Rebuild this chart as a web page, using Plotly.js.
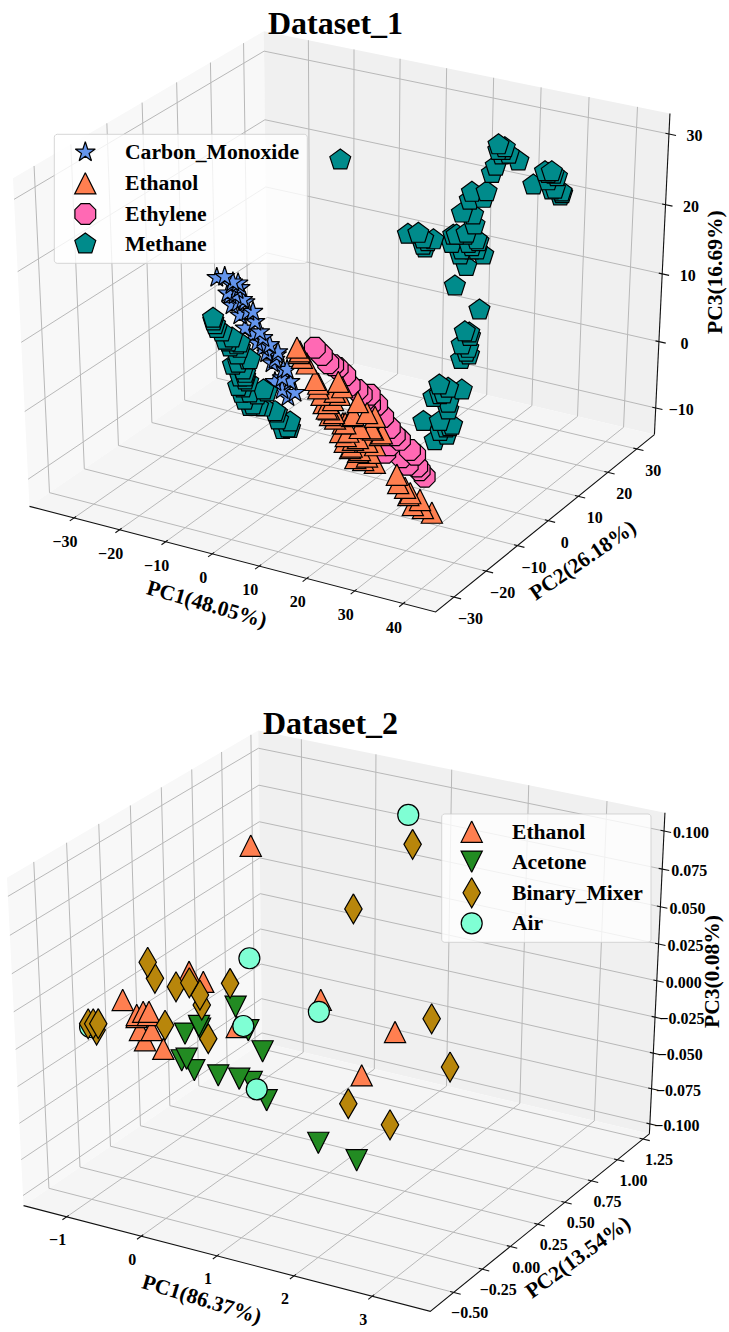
<!DOCTYPE html>
<html>
<head>
<meta charset="utf-8">
<script src="https://cdn.plot.ly/plotly-3.0.1.min.js"></script>
<style>html,body{margin:0;padding:0;background:#fff}</style>
</head>
<body>
<div id="chart" style="width:729px;height:1332px"></div>
<script>
// ---------- Dataset_1 values (PC1, PC2, PC3) ----------
const co_pc1=[-19.3,-18.1,-15.6,-16.5,-16.2,-13.9,-15.3,-12.4,-13.5,-11.9,-10.3,-9.1,-7.9,-7.0,-5.3,-5.6,-3.4,-3.1,-4.0,-2.4,-1.1,
 -16.5,-15.0,-16.7,-15.4,-15.4,-13.4,-14.5,-11.6,-10.7,-9.3,-8.5,-7.0,-5.3,-5.3,-2.8,-1.6,-0.2];
const co_pc2=[-6.9,-6.2,-5.7,-6.3,-7.3,-6.7,-8.0,-7.3,-8.2,-8.9,-8.8,-9.2,-9.2,-9.3,-8.7,-9.7,-9.4,-10.2,-11.1,-11.2,-11.3,
 -6.0,-5.9,-7.3,-6.3,-6.9,-6.7,-7.3,-6.9,-7.6,-8.1,-8.3,-8.4,-8.3,-9.2,-9.1,-9.9,-10.4];
const co_pc3=[13.1,13.2,12.5,12.3,11.2,10.7,10.1,9.4,9.0,7.6,6.9,6.0,5.5,4.9,4.7,3.8,3.1,2.2,1.8,0.9,0.15,
 12.6,12.0,11.4,11.75,11.2,10.45,10.35,9.4,8.3,7.2,6.55,5.8,5.0,4.2,3.1,1.8,0.6];

const eth_pc1=[-2.5,-1.9,-1.1,2.3,3.0,5.0,6.2,7.2,6.1,7.0,9.2,9.3,10.4,10.3,11.8,11.8,10.4,13.3,12.2,14.6,12.5,14.2,15.3,14.4,14.0,16.6,16.0,20.8,21.5,22.9,24.0,26.0,26.9,28.6,
 0.0,-1.8,3.3,4.2,6.1,7.1,6.3,5.7,5.8,6.7,7.7,10.4,9.6,10.6,14.1,12.5,10.6,12.0,13.5,15.0,13.2,15.8,15.6,23.8,25.1];
const eth_pc2=[-6.5,-6.8,-7.0,-7.8,-7.9,-9.1,-9.2,-9.1,-6.2,-6.3,-9.3,-10.2,-10.1,-8.0,-10.8,-9.9,-6.4,-10.5,-8.4,-10.8,-6.6,-9.0,-9.7,-7.5,-6.3,-10.1,-7.1,-9.4,-10.0,-9.9,-9.9,-9.8,-10.2,-9.9,
 -7.1,-6.6,-8.3,-8.6,-7.3,-7.2,-8.1,-8.7,-9.3,-9.6,-9.5,-7.8,-9.1,-9.6,-7.5,-9.4,-10.7,-10.6,-10.2,-10.2,-11.2,-7.4,-8.6,-10.2,-10.7];
const eth_pc3=[5.5,4.9,4.4,2.0,1.6,-0.5,-1.2,-1.6,1.8,1.2,-2.7,-3.65,-4.1,-1.9,-5.4,-4.5,-0.4,-5.8,-3.2,-6.7,-1.6,-4.7,-5.9,-3.4,-2.0,-7.0,-3.8,-8.3,-9.2,-9.7,-10.3,-11.0,-11.9,-12.4,
 3.8,5.1,1.1,0.4,0.7,0.4,-0.2,-0.5,-1.1,-1.8,-2.2,-1.8,-2.7,-3.6,-3.25,-4.3,-4.7,-5.2,-5.6,-6.3,-6.5,-4.0,-5.1,-10.5,-11.6];

const ely_pc1=[0.4,1.9,3.4,4.3,5.2,6.8,8.1,9.6,11.4,11.9,13.6,15.3,17.7,18.2,18.0,20.6,21.5,22.6,23.6,25.4,12.5,17.0,22.0,24.2,10.6,19.3];
const ely_pc2=[-5.2,-5.2,-5.4,-5.2,-5.1,-5.1,-5.6,-5.4,-5.7,-4.9,-5.1,-5.7,-8.5,-6.3,-7.5,-7.6,-6.4,-6.4,-7.2,-7.5,-5.7,-6.1,-7.8,-7.3,-5.5,-6.3];
const ely_pc3=[5.5,4.7,3.8,3.6,3.3,2.5,1.4,0.9,-0.2,0.4,-0.7,-2.0,-5.9,-4.0,-5.1,-6.4,-5.6,-6.1,-7.4,-8.5,-0.7,-3.2,-7.2,-7.8,0.4,-4.5];

const met_pc1=[18.0,19.1,19.1,20.2,22.1,18.8,18.6,16.5,18.8,18.7,16.1,18.0,18.8,8.7,10.3,11.4,13.1,12.2,16.0,17.9,16.2,20.4,19.8,18.2,21.9,19.9,19.2,24.5,27.6,28.5,28.0,25.9,29.6,31.0,30.8,23.4,24.5,23.7,24.9,24.4,22.4,26.3,22.2,23.6,24.9,25.3,22.0,24.6,26.5,25.2,26.5,24.9,-6.4,
 -17.4,-15.4,-14.4,-13.4,-11.9,-13.2,-11.6,-9.6,-11.7,-9.8,-9.9,-8.3,-8.8,-7.4,-4.7,-6.1,-6.2,-4.5,-1.9,0.7,0.7,0.0,
 -17.6,-16.9,-16.4,-12.3,-11.6,-13.8,-9.3,-11.0,-9.3,-9.1,-8.9,-9.6,-8.7,-7.8,-5.4,-5.3,-6.6,-2.3,-1.3,1.1,
 18.3,19.2,16.5,18.0,20.0,18.2,19.6,20.6,18.9,12.3,11.7,27.0,28.1,29.2,30.8,29.1,16.6,23.1,24.0,26.8,26.0,24.2,24.8,25.4];
const met_pc2=[25.8,25.7,25.2,25.8,26.0,23.8,22.9,19.8,21.0,20.2,17.3,18.0,17.3,11.4,12.3,12.2,12.9,11.6,14.8,15.7,14.0,16.2,15.0,14.2,15.5,13.2,10.7,10.6,27.2,27.6,26.6,25.1,26.4,26.6,26.3,7.7,7.7,6.3,6.6,5.1,1.3,2.6,-0.2,0.9,0.5,-0.1,-3.0,-1.7,-1.4,-2.5,-2.3,-3.7,12.4,
 -10.7,-11.0,-11.4,-10.7,-10.5,-11.6,-11.7,-11.3,-12.9,-12.5,-13.3,-13.1,-14.0,-13.9,-12.5,-13.5,-14.7,-14.1,-13.5,-13.2,-13.9,-14.4,
 -10.5,-10.9,-11.1,-10.9,-10.9,-11.3,-11.1,-12.3,-12.6,-12.9,-13.2,-14.3,-14.6,-14.9,-12.6,-14.4,-15.0,-13.5,-14.0,-13.8,
 25.3,26.0,15.1,16.0,16.2,13.7,15.3,15.4,15.3,12.3,11.7,27.1,27.6,27.6,26.7,26.1,19.0,0.5,1.7,-1.1,-1.8,7.9,6.1,6.1];
const met_pc3=[27.5,26.9,26.4,26.5,25.75,25.2,24.4,22.35,22.4,21.7,20.1,19.9,18.8,17.8,17.9,17.3,17.2,16.3,17.7,17.7,16.8,17.0,16.1,16.1,15.55,14.3,12.2,9.6,24.4,24.3,23.6,23.15,22.7,22.2,21.95,7.2,6.7,5.8,5.4,4.2,1.45,0.9,0.1,0.47,-0.54,-1.27,-2.5,-2.5,-3.08,-3.6,-4.0,-4.6,25.86,
 8.4,7.2,6.3,6.55,6.0,5.57,4.7,4.16,3.6,3.07,2.3,1.77,1.12,0.58,0.69,0.36,-0.72,-0.94,-1.6,-2.57,-3.2,-3.4,
 8.7,8.0,7.6,5.8,5.4,6.1,4.2,3.8,2.7,2.3,2.0,1.3,0.55,-0.2,0.9,-0.9,-0.9,-1.45,-2.35,-3.25,
 26.9,27.2,17.7,17.9,17.2,15.55,16.45,16.1,16.8,17.0,16.6,24.6,24.6,24.05,22.4,22.6,21.5,0.4,1.1,-2.9,-3.2,7.1,5.0,4.7];

// ---------- Dataset_2 values ----------
const eth2_pc1=[-0.403,-1.111,-0.560,-0.385,0.831,-0.920,-0.868,-0.811,-0.810,-0.913,-0.835,-0.720,-0.749,-0.539,0.103,1.500,1.674];
const eth2_pc2=[0.497,-0.137,0.071,0.078,0.288,-0.142,-0.121,-0.108,-0.118,-0.147,-0.170,-0.145,-0.183,-0.164,0.045,0.200,0.372];
const eth2_pc3=[0.0861,0.0080,0.0223,0.0172,0.0080,0.0004,0.0020,0.0020,0.0004,-0.0006,-0.0072,-0.0072,-0.0124,-0.0167,-0.0057,-0.0302,-0.0082];

const ace_pc1=[0.021,-0.380,-0.251,-0.270,-0.318,-0.275,-0.159,0.094,0.312,0.445,0.657,0.444,0.228,1.314,1.753];
const ace_pc2=[0.089,-0.082,-0.038,-0.034,-0.151,-0.137,-0.147,-0.108,-0.071,-0.051,-0.062,0.043,0.062,-0.050,-0.009];
const ace_pc3=[0.0046,-0.0091,-0.0066,-0.0052,-0.0226,-0.0218,-0.0276,-0.0302,-0.0319,-0.0336,-0.0428,-0.0180,-0.0074,-0.0644,-0.0732];

const bin_pc1=[-0.999,-0.871,-0.635,-0.519,-0.371,-0.318,-0.117,-0.606,-0.134,-1.364,-1.315,-1.266,-1.260,0.828,1.180,1.985,2.337,1.954,1.470];
const bin_pc2=[0.004,-0.018,0.008,0.046,0.040,0.021,0.132,-0.105,-0.044,-0.267,-0.256,-0.245,-0.263,0.570,0.847,0.482,0.409,0.145,0.105];
const bin_pc3=[0.0271,0.0190,0.0147,0.0167,0.0105,0.0054,0.0164,-0.0048,-0.0116,-0.0040,-0.0040,-0.0040,-0.0072,0.0541,0.0868,-0.0015,-0.0260,-0.0552,-0.0445];

const air_pc1=[1.033,-0.017,0.855,0.164,0.520,-1.335];
const air_pc2=[0.906,0.232,0.256,0.061,-0.057,-0.270];
const air_pc3=[0.1017,0.0291,0.0020,-0.0052,-0.0373,-0.0057];

// ---------- Ticks ----------
const xTicks1=[-30,-20,-10,0,10,20,30,40];
const yTicks1=[-30,-20,-10,0,10,20,30];
const zTicks1=[-10,0,10,20,30];
const xLabels1=["\u221230","\u221220","\u221210","0","10","20","30","40"];
const yLabels1=["\u221230","\u221220","\u221210","0","10","20","30"];
const zLabels1=["\u221210","0","10","20","30"];
const xTicks2=[-1,0,1,2,3];
const yTicks2=[-0.5,-0.25,0,0.25,0.5,0.75,1,1.25];
const zTicks2=[-0.1,-0.075,-0.05,-0.025,0,0.025,0.05,0.075,0.1];
const xLabels2=["\u22121","0","1","2","3"];
const yLabels2=["\u22120.50","\u22120.25","0.00","0.25","0.50","0.75","1.00","1.25"];
const zLabels2=["\u22120.100","\u22120.075","\u22120.050","\u22120.025","0.000","0.025","0.050","0.075","0.100"];

// ---------- Scene geometry ----------
const FONT='"Liberation Serif", "Times New Roman", serif';
const scenes=[
 {title:'Dataset_1',titleXY:[335.5,23],cx:346.8,cy:311.7,sx:4688,sy:3745,c:[3.4,0.29,9.4],r:[86.5,71.87,46.93],
  xt:xTicks1,yt:yTicks1,zt:zTicks1,xl:xLabels1,yl:yLabels1,zl:zLabels1,
  xo:[-9,25],yo:[16.5,23],zo:[25.5,3],
  labels:[{t:'PC1(48.05%)',x:206.7,y:604,a:16},{t:'PC2(26.18%)',x:583,y:560,a:-34.5},{t:'PC3(16.69%)',x:715,y:272,a:-90}],
  legendBox:[54.3,134.3,307.3,263.3],legendX:85.3,legendTextX:125,legendY:[152.3,183.3,214,244],
  series:[
   {name:'Carbon_Monoxide',sym:'star',color:'#6495ED',p:[co_pc1,co_pc2,co_pc3]},
   {name:'Ethanol',sym:'tri-up',color:'#FF7F50',p:[eth_pc1,eth_pc2,eth_pc3]},
   {name:'Ethylene',sym:'octagon',color:'#FF69B4',p:[ely_pc1,ely_pc2,ely_pc3]},
   {name:'Methane',sym:'pentagon',color:'#008B8B',p:[met_pc1,met_pc2,met_pc3]}],
  drawOrder:[0,3,2,1],xa:'x',ya:'y'},
 {title:'Dataset_2',titleXY:[330,723],cx:341.3,cy:1011,sx:4695,sy:3745,c:[1.072,0.306,0.0024],r:[5.316,2.014,0.219],
  xt:xTicks2,yt:yTicks2,zt:zTicks2,xl:xLabels2,yl:yLabels2,zl:zLabels2,
  xo:[-9,24.5],yo:[16,22],zo:[27,3.3],
  labels:[{t:'PC1(86.37%)',x:201.7,y:1299,a:17},{t:'PC2(13.54%)',x:578,y:1257,a:-36},{t:'PC3(0.08%)',x:712,y:972,a:-90}],
  legendBox:[441.7,814,651,942.3],legendX:471.7,legendTextX:511.7,legendY:[831.7,861.7,892.7,923.3],
  series:[
   {name:'Ethanol',sym:'tri-up',color:'#FF7F50',p:[eth2_pc1,eth2_pc2,eth2_pc3]},
   {name:'Acetone',sym:'tri-down',color:'#228B22',p:[ace_pc1,ace_pc2,ace_pc3]},
   {name:'Binary_Mixer',sym:'thin-diamond',color:'#B8860B',p:[bin_pc1,bin_pc2,bin_pc3]},
   {name:'Air',sym:'circle',color:'#7FFFD4',p:[air_pc1,air_pc2,air_pc3]}],
  drawOrder:[0,1,3,2],xa:'x2',ya:'y2'}
];

// perspective projection of the 3D axes box (elevation 30, azimuth -60, distance 10)
function projN(s,X,Y,Z){
  const u=0.8660254*X+0.5*Y, v=-0.25*X+0.4330127*Y+0.8660254*Z;
  const w=10-(0.4330127*X-0.75*Y+0.5*Z);
  return [s.cx+s.sx*u/w, s.cy-s.sy*v/w];
}
const nx=(s,i,val)=>(val-s.c[i])/s.r[i];

const POLY={
 'tri-up':[[0,-10.6],[-10.6,10.6],[10.6,10.6]],
 'tri-down':[[0,10.6],[-10.6,-10.6],[10.6,-10.6]],
 'thin-diamond':[[0,-15],[8.7,0],[0,15],[-8.7,0]]
};
const MARK={star:{symbol:'star',size:15},octagon:{symbol:'octagon',size:22.5},pentagon:{symbol:'pentagon',size:22},circle:{symbol:'circle',size:21}};

const traces=[],annotations=[];
function lineTrace(s,xs,ys,color,width){
  traces.push({type:'scatter',mode:'lines',x:xs,y:ys,xaxis:s.xa,yaxis:s.ya,line:{color:color,width:width},hoverinfo:'skip',showlegend:false});
}
function fillTrace(s,pts,fill,lineColor,lineW){
  const xs=pts.map(p=>p[0]),ys=pts.map(p=>p[1]);xs.push(xs[0]);ys.push(ys[0]);
  traces.push({type:'scatter',mode:'lines',x:xs,y:ys,xaxis:s.xa,yaxis:s.ya,fill:'toself',fillcolor:fill,
    line:{color:lineColor,width:lineW,simplify:false},hoverinfo:'skip',showlegend:false});
}
function markerTrace(s,xs,ys,ser){
  const m=MARK[ser.sym];
  traces.push({type:'scatter',mode:'markers',x:xs,y:ys,xaxis:s.xa,yaxis:s.ya,name:ser.name,cliponaxis:false,
    marker:{symbol:m.symbol,size:m.size,color:ser.color,line:{color:'#000',width:1.2}},hoverinfo:'skip',showlegend:false});
}
function polyAt(s,px,py,ser){
  fillTrace(s,POLY[ser.sym].map(o=>[px+o[0],py+o[1]]),ser.color,'#000',1.2);
}
function addPts(s,xs,ys,ser){
  if(POLY[ser.sym]) xs.forEach((x,i)=>polyAt(s,x,ys[i],ser)); else markerTrace(s,xs,ys,ser);
}
function roundRect(b,r){
  const pts=[],cs=[[b[2]-r,b[1]+r,-90],[b[2]-r,b[3]-r,0],[b[0]+r,b[3]-r,90],[b[0]+r,b[1]+r,180]];
  cs.forEach(c=>{for(let a=0;a<=90;a+=30){const t=(c[2]+a)*Math.PI/180;pts.push([c[0]+r*Math.cos(t),c[1]+r*Math.sin(t)]);}});
  return pts;
}

scenes.forEach(s=>{
  const P=(X,Y,Z)=>projN(s,X,Y,Z), h=0.5;
  // panes
  fillTrace(s,[P(-h,-h,h),P(-h,h,h),P(-h,h,-h),P(-h,-h,-h)],'#f8f8f8','rgba(0,0,0,0)',0);
  fillTrace(s,[P(-h,h,h),P(h,h,h),P(h,h,-h),P(-h,h,-h)],'#f0f0f0','rgba(0,0,0,0)',0);
  fillTrace(s,[P(-h,-h,-h),P(h,-h,-h),P(h,h,-h),P(-h,h,-h)],'#f5f5f5','rgba(0,0,0,0)',0);
  // grid
  const gx=[],gy=[];
  const path=(pts)=>{pts.forEach(p=>{gx.push(p[0]);gy.push(p[1]);});gx.push(null);gy.push(null);};
  s.xt.forEach(t=>{const X=nx(s,0,t);path([P(X,-h,-h),P(X,h,-h),P(X,h,h)]);});
  s.yt.forEach(t=>{const Y=nx(s,1,t);path([P(h,Y,-h),P(-h,Y,-h),P(-h,Y,h)]);});
  s.zt.forEach(t=>{const Z=nx(s,2,t);path([P(-h,-h,Z),P(-h,h,Z),P(h,h,Z)]);});
  lineTrace(s,gx,gy,'#b8b8b8',1);
  // axis lines and ticks
  const ax=[],ay=[];
  const apath=(pts)=>{pts.forEach(p=>{ax.push(p[0]);ay.push(p[1]);});ax.push(null);ay.push(null);};
  apath([P(-h,-h,-h),P(h,-h,-h),P(h,h,-h)]);apath([P(h,h,-h),P(h,h,h)]);
  const inw=0.1/12,out=0.2/12;
  const tx=[],ty=[],tt=[];
  const lab=(p,o,t)=>{tx.push(p[0]+o[0]);ty.push(p[1]+o[1]);tt.push(t);};
  s.xt.forEach((t,i)=>{const X=nx(s,0,t);apath([P(X,-h+inw,-h),P(X,-h-out,-h)]);lab(P(X,-h,-h),s.xo,s.xl[i]);});
  s.yt.forEach((t,i)=>{const Y=nx(s,1,t);apath([P(h-inw,Y,-h),P(h+out,Y,-h)]);lab(P(h,Y,-h),s.yo,s.yl[i]);});
  s.zt.forEach((t,i)=>{const Z=nx(s,2,t);apath([P(h-inw,h,Z),P(h+out,h,Z)]);lab(P(h,h,Z),s.zo,s.zl[i]);});
  lineTrace(s,ax,ay,'#111',1.1);
  // data
  s.drawOrder.forEach(k=>{
    const ser=s.series[k],[a,b,c]=ser.p;
    const idx=a.map((_,i)=>i).sort((m,n)=>c[m]-c[n]);
    const xy=idx.map(i=>P(nx(s,0,a[i]),nx(s,1,b[i]),nx(s,2,c[i])));
    addPts(s,xy.map(p=>p[0]),xy.map(p=>p[1]),ser);
  });
  // tick labels
  traces.push({type:'scatter',mode:'text',x:tx,y:ty,text:tt,xaxis:s.xa,yaxis:s.ya,cliponaxis:false,textposition:'middle center',
    textfont:{family:FONT,size:16,color:'#000',weight:'bold'},hoverinfo:'skip',showlegend:false});
  // legend
  fillTrace(s,roundRect(s.legendBox,3),'rgba(255,255,255,0.8)','rgba(204,204,204,0.8)',1);
  s.series.forEach((ser,i)=>{
    addPts(s,[s.legendX],[s.legendY[i]],ser);
    annotations.push({xref:s.xa,yref:s.ya,x:s.legendTextX,y:s.legendY[i],text:'<b>'+ser.name+'</b>',showarrow:false,xanchor:'left',yanchor:'middle',
      xshift:-2,font:{family:FONT,size:21.6,color:'#000'}});
  });
  annotations.push({xref:s.xa,yref:s.ya,x:s.titleXY[0],y:s.titleXY[1],text:'<b>'+s.title+'</b>',showarrow:false,xanchor:'center',yanchor:'middle',font:{family:FONT,size:32,color:'#000'}});
  s.labels.forEach(l=>annotations.push({xref:s.xa,yref:s.ya,x:l.x,y:l.y,text:'<b>'+l.t+'</b>',showarrow:false,textangle:l.a,xanchor:'center',yanchor:'middle',font:{family:FONT,size:21.5,color:'#000'}}));
});

const hidden={visible:false,fixedrange:true};
Plotly.newPlot('chart',traces,{
  width:729,height:1332,margin:{l:0,r:0,t:0,b:0},paper_bgcolor:'#fff',plot_bgcolor:'#fff',showlegend:false,
  xaxis:Object.assign({range:[0,729],domain:[0,1]},hidden),
  yaxis:Object.assign({range:[666,0],domain:[0.5,1]},hidden),
  xaxis2:Object.assign({range:[0,729],domain:[0,1]},hidden),
  yaxis2:Object.assign({range:[1332,666],domain:[0,0.5]},hidden),
  annotations:annotations
},{staticPlot:true,displayModeBar:false});
</script>
</body>
</html>
